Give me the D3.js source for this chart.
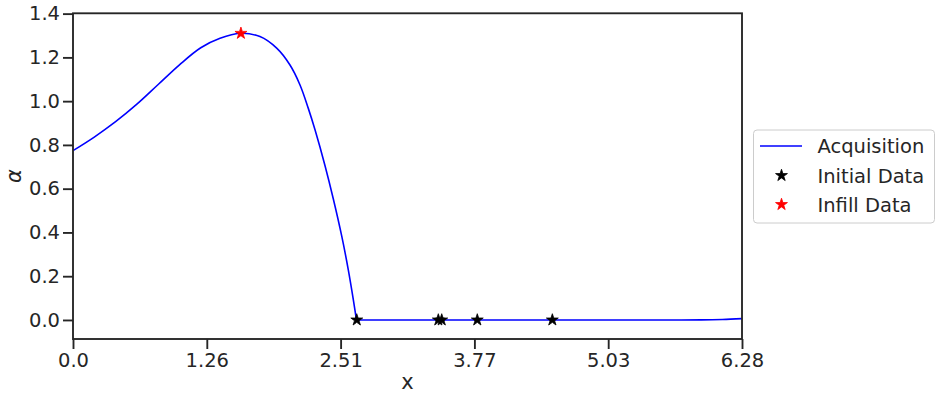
<!DOCTYPE html>
<html>
<head>
<meta charset="utf-8">
<script src="https://cdn.jsdelivr.net/npm/d3@7"></script>
<style>
  body { margin: 0; background: #fff; }
  text { font-family: "DejaVu Sans", sans-serif; fill: #262626; }
</style>
</head>
<body>
<div id="chart"></div>
<script>
// Acquisition curve
const curveX = [0.0, 0.2, 0.4, 0.6, 0.8, 1.0, 1.2, 1.381, 1.568, 1.756, 1.913, 2.038, 2.132, 2.210, 2.273, 2.367, 2.445, 2.524, 2.586, 2.633, 2.662, 3.5, 4.5, 5.5, 5.9, 6.1, 6.2832];
const curveY = [0.774, 0.836, 0.906, 0.986, 1.076, 1.166, 1.244, 1.287, 1.310, 1.295, 1.242, 1.165, 1.074, 0.967, 0.869, 0.705, 0.553, 0.383, 0.228, 0.092, 0.0, 0.0, 0.0, 0.0, 0.0004, 0.002, 0.006];
// index where the curve meets zero
const kinkIndex = 20;

// Sample points
const initialX = [2.665, 3.431, 3.463, 3.797, 4.502];
const initialY = [0.0, 0.0, 0.0, 0.0, 0.0];
const infillX = [1.577];
const infillY = [1.31];

// Ticks
const xTicks = [0, 1.2566, 2.5133, 3.7699, 5.0265, 6.2832];
const xTickLabels = ['0.0', '1.26', '2.51', '3.77', '5.03', '6.28'];
const yTicks = [0.0, 0.2, 0.4, 0.6, 0.8, 1.0, 1.2, 1.4];

const legendLabels = ['Acquisition', 'Initial Data', 'Infill Data'];

function drawChart() {
    const W = 942, H = 400;
    const left = 73, right = 742, top = 13.3, bottom = 339;
    const ink = '#262626';

    const svg = d3.select('#chart')
        .append('svg')
        .attr('width', W)
        .attr('height', H);

    const x = d3.scaleLinear().domain([0, 2 * Math.PI]).range([left, right]);
    const y = d3.scaleLinear().domain([-0.087, 1.4015]).range([bottom, top]);

    // Axes
    const xAxis = d3.axisBottom(x)
        .tickValues(xTicks)
        .tickFormat((d, i) => xTickLabels[i])
        .tickSize(10)
        .tickSizeOuter(0)
        .tickPadding(4);

    const yAxis = d3.axisLeft(y)
        .tickValues(yTicks)
        .tickFormat(d3.format('.1f'))
        .tickSize(10)
        .tickSizeOuter(0)
        .tickPadding(3);

    const gx = svg.append('g')
        .attr('transform', `translate(0, ${bottom})`)
        .call(xAxis);
    const gy = svg.append('g')
        .attr('transform', `translate(${left}, 0)`)
        .call(yAxis);

    [gx, gy].forEach(g => {
        g.select('.domain').remove();
        g.selectAll('line').attr('stroke', ink).attr('stroke-width', 1.875);
        g.selectAll('text')
            .attr('fill', ink)
            .style('font-family', '"DejaVu Sans", sans-serif')
            .style('font-size', '19.5px');
    });

    // Acquisition line: smooth hump, then the flat tail
    const pts = curveX.map((v, i) => [v, curveY[i]]);
    const hump = pts.slice(0, kinkIndex + 1);
    const tail = pts.slice(kinkIndex);

    const smoothLine = d3.line()
        .x(d => x(d[0]))
        .y(d => y(d[1]))
        .curve(d3.curveCatmullRom.alpha(0.5));
    const tailLine = d3.line()
        .x(d => x(d[0]))
        .y(d => y(d[1]))
        .curve(d3.curveMonotoneX);

    svg.append('defs').append('clipPath').attr('id', 'clip')
        .append('rect')
        .attr('x', left).attr('y', top)
        .attr('width', right - left).attr('height', bottom - top);

    [smoothLine(hump), tailLine(tail)].forEach(d => {
        svg.append('path')
            .attr('clip-path', 'url(#clip)')
            .attr('d', d)
            .attr('fill', 'none')
            .attr('stroke', 'blue')
            .attr('stroke-width', 1.6)
            .attr('stroke-linejoin', 'round');
    });

    // Stars
    const star = d3.symbol().type(d3.symbolStar).size(44);

    svg.selectAll('.initial')
        .data(initialX.map((v, i) => [v, initialY[i]]))
        .enter()
        .append('path')
        .attr('class', 'initial')
        .attr('d', star)
        .attr('transform', d => `translate(${x(d[0])}, ${y(d[1])})`)
        .attr('fill', 'black')
        .attr('stroke', 'black')
        .attr('stroke-width', 0.8);

    svg.selectAll('.infill')
        .data(infillX.map((v, i) => [v, infillY[i]]))
        .enter()
        .append('path')
        .attr('class', 'infill')
        .attr('d', star)
        .attr('transform', d => `translate(${x(d[0])}, ${y(d[1])})`)
        .attr('fill', 'red')
        .attr('stroke', 'red')
        .attr('stroke-width', 0.8);

    // Spines
    svg.append('rect')
        .attr('x', left).attr('y', top)
        .attr('width', right - left).attr('height', bottom - top)
        .attr('fill', 'none')
        .attr('stroke', ink)
        .attr('stroke-width', 1.875);

    // Axis labels
    svg.append('text')
        .attr('x', (left + right) / 2)
        .attr('y', 388.5)
        .attr('text-anchor', 'middle')
        .style('font-size', '21px')
        .text('x');

    svg.append('text')
        .attr('transform', `translate(21, ${(top + bottom) / 2}) rotate(-90)`)
        .attr('text-anchor', 'middle')
        .style('font-size', '21px')
        .style('font-style', 'italic')
        .text('α');

    // Legend
    const legend = svg.append('g');
    legend.append('rect')
        .attr('x', 753.5).attr('y', 130)
        .attr('width', 181).attr('height', 93)
        .attr('rx', 3.5)
        .attr('fill', 'white')
        .attr('stroke', '#cccccc')
        .attr('stroke-width', 1);

    const rowY = [146, 175.5, 204.5];
    legend.append('line')
        .attr('x1', 760).attr('x2', 802)
        .attr('y1', rowY[0]).attr('y2', rowY[0])
        .attr('stroke', 'blue')
        .attr('stroke-width', 1.6);
    legend.append('path')
        .attr('d', star)
        .attr('transform', `translate(781.5, ${rowY[1]})`)
        .attr('fill', 'black').attr('stroke', 'black').attr('stroke-width', 0.8);
    legend.append('path')
        .attr('d', star)
        .attr('transform', `translate(781.5, ${rowY[2]})`)
        .attr('fill', 'red').attr('stroke', 'red').attr('stroke-width', 0.8);

    legend.selectAll('.leg-label')
        .data(legendLabels)
        .enter()
        .append('text')
        .attr('class', 'leg-label')
        .attr('x', 817.5)
        .attr('y', (d, i) => rowY[i])
        .attr('dy', '0.36em')
        .style('font-size', '19.5px')
        .text(d => d);
}

drawChart();
</script>
</body>
</html>
